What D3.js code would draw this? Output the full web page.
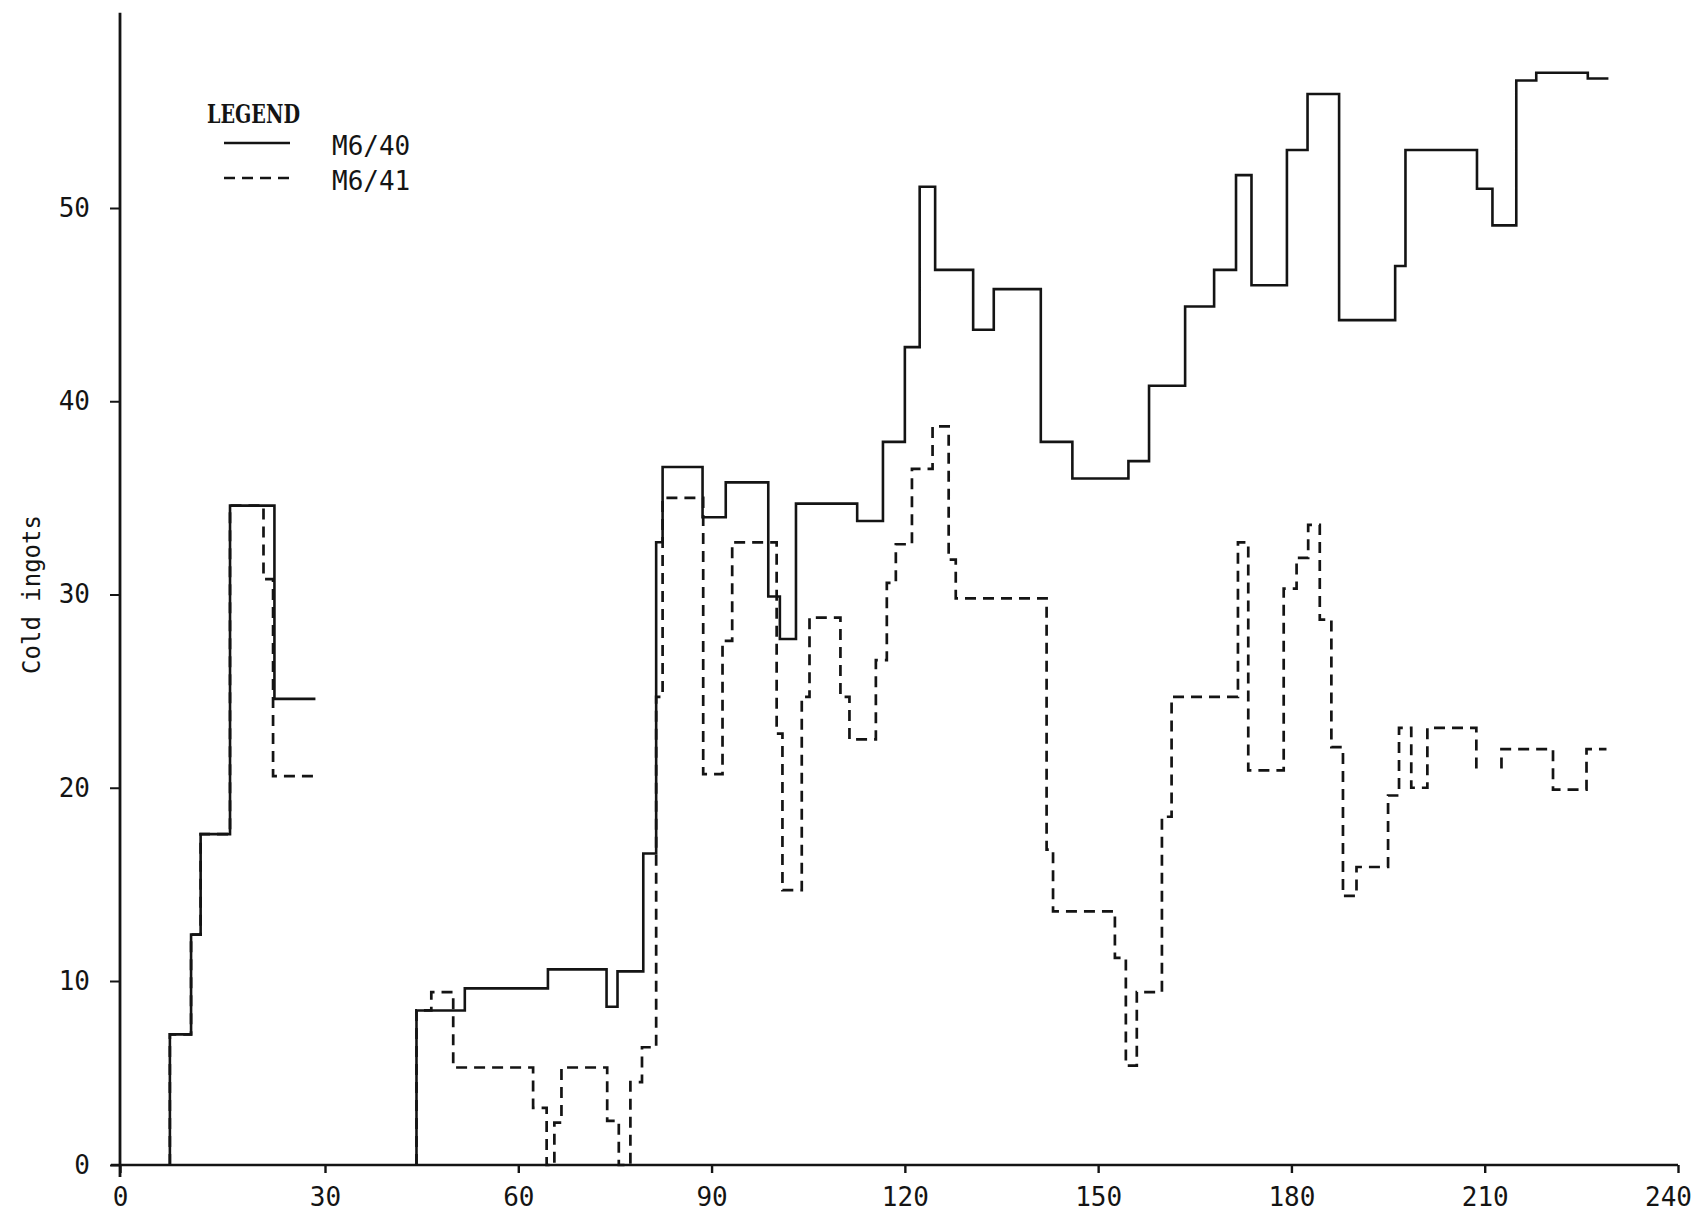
<!DOCTYPE html>
<html><head><meta charset="utf-8">
<script src="https://cdn.jsdelivr.net/npm/d3@7"></script>
<style>html,body{margin:0;padding:0;background:#fff;} svg{display:block;}</style>
</head><body>
<svg id="chart" width="1696" height="1215"></svg>
<script>
// ---- data ----
const xTicks = [0, 30, 60, 90, 120, 150, 180, 210, 240];
const yTicks = [0, 10, 20, 30, 40, 50];
const yTitle = "Cold ingots";
const legendTitle = "LEGEND";
const seriesNames = ["M6/40", "M6/41"];

// step starts (x) and levels (cold ingots); null level = break in the record
const x_M640 = [7.3,7.3,10.4,11.8,16.1,22.6,28.6, 28.6,
  44.2,44.2,51.7,64.6,73.7,75.4,79.4,81.4,82.4,88.6,
  92.2,98.8,100.6,103.1,112.6,116.6,120.0,122.3,124.7,130.6,
  133.8,141.1,146.0,154.7,157.9,163.5,168.0,171.4,173.8,179.3,
  182.5,187.4,196.1,197.7,208.8,211.2,214.9,218.0,226.0,229.2];
const y_M640 = [0,7.1,12.4,17.6,34.6,24.6,24.6, null,
  0,8.4,9.6,10.6,8.6,10.5,16.6,32.7,36.6,34.0,
  35.8,29.9,27.7,34.7,33.8,37.9,42.8,51.1,46.8,43.7,
  45.8,37.9,36.0,36.9,40.8,44.9,46.8,51.7,46.0,53.0,
  55.9,44.2,47.0,53.0,51.0,49.1,56.6,57.0,56.7,56.7];

const x_M641 = [7.3,7.3,10.4,11.8,16.1,21.0,22.4,28.6, 28.6,
  44.2,44.2,46.5,49.9,62.3,64.4,65.6,66.7,73.8,75.6,
  77.4,79.2,81.4,82.4,88.7,91.7,93.2,100.1,101.0,104.0,
  105.2,110.0,111.4,115.5,117.2,118.6,121.1,124.3,126.8,127.9,
  142.0,143.0,152.6,154.3,156.0,159.9,161.4,171.7,173.3,178.8,
  180.8,182.6,184.4,186.2,188.0,190.1,195.0,196.7,198.6,201.1,
  208.7, 208.7,
  212.6,212.6,220.6,225.8,228.9];
const y_M641 = [0,7.1,12.4,17.6,34.6,30.8,20.6,20.6, null,
  0,8.4,9.4,5.3,3.1,0,2.3,5.3,2.4,0,
  4.5,6.4,24.7,35.0,20.7,27.6,32.7,22.8,14.7,24.7,
  28.8,24.7,22.5,26.6,30.6,32.6,36.5,38.7,31.8,29.8,
  16.8,13.6,11.2,5.4,9.4,18.5,24.7,32.7,20.9,30.3,
  31.9,33.6,28.7,22.1,14.4,15.9,19.6,23.1,20.0,23.1,
  21.0, null,
  21.0,22.0,19.9,22.0,22.0];

// ---- layout ----
const svg = d3.select("#chart");
const ink = "#141414";
const monoFont = "'DejaVu Sans Mono', 'Liberation Mono', monospace";

// hand-drawn axis: first 30-unit interval is slightly wider than the rest
const x = d3.scaleLinear().domain([0, 30, 240]).range([120, 325, 1678]);
const y = d3.scaleLinear().domain([0, 10, 50]).range([1165, 981, 208]);

// series
const toPts = (xs, ys) => xs.map((v, i) => ({x: v, y: ys[i]}));
const line = d3.line()
  .defined(d => d.y !== null)
  .x(d => x(d.x)).y(d => y(d.y))
  .curve(d3.curveStepAfter);

svg.append("path")
  .datum(toPts(x_M641, y_M641))
  .attr("d", line)
  .attr("fill", "none").attr("stroke", ink)
  .attr("stroke-width", 2.7)
  .attr("stroke-dasharray", "11,7");

svg.append("path")
  .datum(toPts(x_M640, y_M640))
  .attr("d", line)
  .attr("fill", "none").attr("stroke", ink)
  .attr("stroke-width", 2.6);

// y axis
const gy = svg.append("g").attr("transform", `translate(${x(0)},0)`)
  .call(d3.axisLeft(y).tickValues(yTicks).tickSize(10).tickPadding(20).tickSizeOuter(0));
gy.select(".domain").remove();
gy.selectAll(".tick line").attr("stroke", ink).attr("stroke-width", 2);
gy.selectAll(".tick text").attr("fill", ink)
  .style("font-family", monoFont).style("font-size", "26px");
svg.append("line")
  .attr("x1", x(0)).attr("x2", x(0))
  .attr("y1", y(60.1)).attr("y2", y(0) + 12)
  .attr("stroke", ink).attr("stroke-width", 2.8);

// x axis
const gx = svg.append("g").attr("transform", `translate(0,${y(0)})`)
  .call(d3.axisBottom(x).tickValues(xTicks).tickSize(8).tickPadding(15).tickSizeOuter(0));
gx.select(".domain").remove();
gx.selectAll(".tick line").attr("stroke", ink).attr("stroke-width", 2.4);
gx.selectAll(".tick text").attr("fill", ink)
  .style("font-family", monoFont).style("font-size", "26px");
// last label sits slightly left of its tick so it stays on the sheet
gx.selectAll(".tick text").filter(d => d === xTicks[xTicks.length - 1]).attr("dx", -10);
svg.append("line")
  .attr("x1", x(0) - 9).attr("x2", x(240))
  .attr("y1", y(0)).attr("y2", y(0))
  .attr("stroke", ink).attr("stroke-width", 2.4);

// y title
svg.append("text")
  .attr("transform", `translate(40,${y(30)}) rotate(-90)`)
  .attr("text-anchor", "middle")
  .attr("fill", ink)
  .style("font-family", monoFont).style("font-size", "24px")
  .text(yTitle);

// legend
const lg = svg.append("g");
lg.append("text")
  .attr("x", 207).attr("y", 123)
  .attr("fill", ink)
  .attr("textLength", 93).attr("lengthAdjust", "spacingAndGlyphs")
  .style("font-family", "'DejaVu Serif', 'Liberation Serif', serif")
  .style("font-weight", "bold").style("font-size", "26px")
  .text(legendTitle);
const legendRows = [
  {name: seriesNames[0], dash: null, ly: 143, ty: 155},
  {name: seriesNames[1], dash: "11,7", ly: 178, ty: 190}
];
legendRows.forEach(r => {
  lg.append("line")
    .attr("x1", 224).attr("x2", 290)
    .attr("y1", r.ly).attr("y2", r.ly)
    .attr("stroke", ink).attr("stroke-width", 2.6)
    .attr("stroke-dasharray", r.dash);
  lg.append("text")
    .attr("x", 332).attr("y", r.ty)
    .attr("fill", ink)
    .style("font-family", monoFont).style("font-size", "26px")
    .text(r.name);
});
</script>
</body></html>
